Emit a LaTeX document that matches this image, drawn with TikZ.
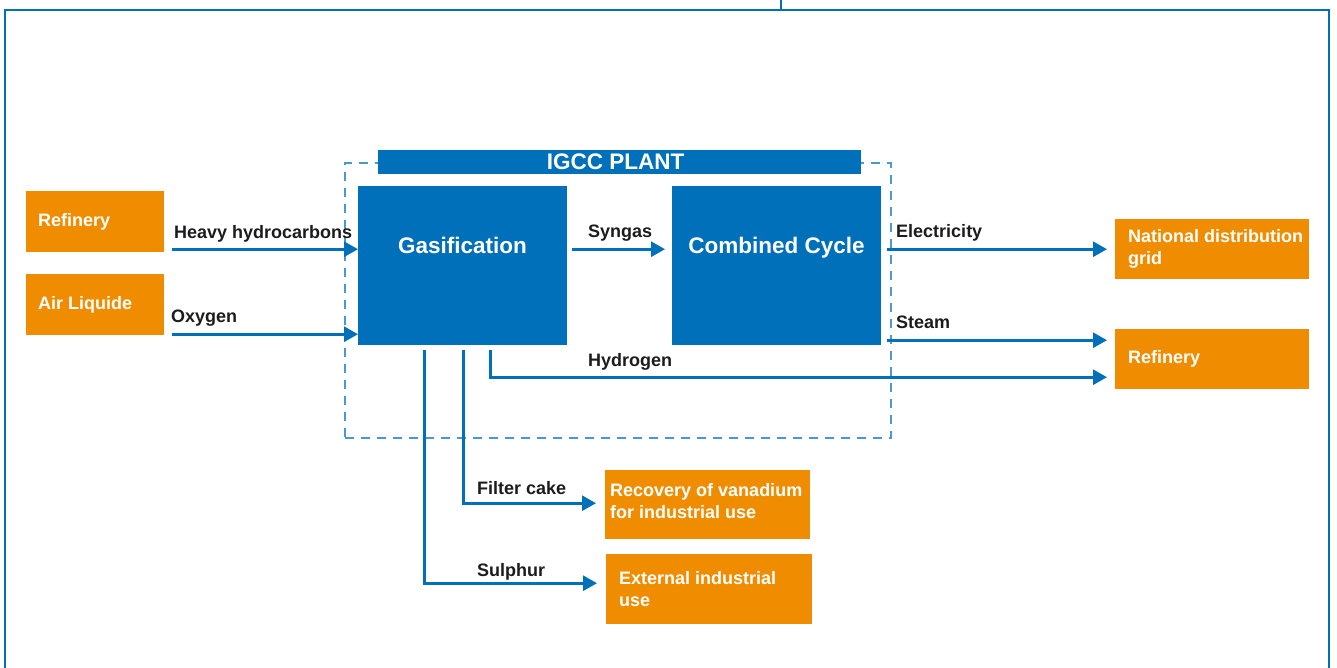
\documentclass[tikz,border=0pt]{standalone}
\usepackage{fontspec}
\setmainfont{Liberation Sans}
\usetikzlibrary{arrows.meta}

\definecolor{plantblue}{RGB}{0,112,186}
\definecolor{dashblue}{RGB}{74,152,212}
\definecolor{supplyorange}{RGB}{240,140,0}
\definecolor{labelink}{RGB}{28,28,30}

\begin{document}
\begin{tikzpicture}[x=1pt,y=-1pt,
  orangebox/.style={fill=supplyorange, anchor=north west, inner sep=0pt},
  boxtext/.style={anchor=west, inner sep=0pt, align=left, text=white,
    font=\bfseries\fontsize{18}{22}\selectfont},
  unitbox/.style={fill=plantblue, anchor=north west, inner sep=0pt},
  unittext/.style={anchor=base, inner sep=0pt, text=white,
    font=\bfseries\fontsize{22.5}{26}\selectfont},
  flowlabel/.style={anchor=base west, inner sep=0pt, text=labelink,
    font=\bfseries\fontsize{18}{21}\selectfont},
  flow/.style={draw=plantblue, line width=2.7pt,
    -{Triangle[length=14pt,width=15pt]}},
]
\useasboundingbox (0,0) rectangle (1337,668);

% outer frame
\coordinate (frameTL) at (5,10);
\coordinate (frameTR) at (1329,10);
\coordinate (tickTop) at (781,0);
\draw[plantblue, line width=2.2pt] (5,668) -- (frameTL) -- (frameTR) -- (1329,668);
\draw[plantblue, line width=2pt] (tickTop) -- (781,10);

% plant boundary
\node[draw=dashblue, line width=1.6pt, dash pattern=on 9pt off 7pt,
  anchor=north west, inner sep=0pt, minimum width=546pt, minimum height=275pt]
  (plant) at (344,162) {};
\node[unitbox, minimum width=483pt, minimum height=24pt, text=white,
  font=\bfseries\fontsize{22.5}{26}\selectfont] (plantBar) at (378,150) {IGCC PLANT\hspace*{8pt}};

% process units
\node[unitbox, minimum width=209pt, minimum height=159pt] (gas) at (358,186) {};
\node[unitbox, minimum width=209pt, minimum height=159pt] (cc) at (672,186) {};
\node[unittext] (gasText) at (462.5,253) {Gasification};
\node[unittext] (ccText) at (776.5,253) {Combined Cycle};

% suppliers and consumers
\node[orangebox, minimum width=138pt, minimum height=61pt] (refL) at (26,191) {};
\node[boxtext] (refLText) at ([xshift=12pt]refL.west) {Refinery};
\node[orangebox, minimum width=138pt, minimum height=61pt] (airL) at (26,274) {};
\node[boxtext] (airLText) at ([xshift=12pt]airL.west) {Air Liquide};

\node[orangebox, minimum width=194pt, minimum height=60pt] (grid) at (1115,219) {};
\node[boxtext] (gridText) at ([xshift=13pt]grid.west) {National distribution\\grid};
\node[orangebox, minimum width=194pt, minimum height=60pt] (refR) at (1115,329) {};
\node[boxtext] (refRText) at ([xshift=13pt]refR.west) {Refinery};

\node[orangebox, minimum width=205pt, minimum height=69pt] (vana) at (605,470) {};
\node[boxtext] (vanaText) at ([xshift=5pt,yshift=4pt]vana.west) {Recovery of vanadium\\for industrial use};
\node[orangebox, minimum width=206pt, minimum height=70pt] (ext) at (606,554) {};
\node[boxtext] (extText) at ([xshift=13pt]ext.west) {External industrial\\use};

% flows into the plant
\draw[flow] ([xshift=8pt,yshift=-27.5pt]refL.east) -- ([yshift=16.5pt]gas.west);
\draw[flow] ([xshift=8pt,yshift=-29.5pt]airL.east) -- ([yshift=-68.5pt]gas.west);
\draw[flow] ([xshift=5pt,yshift=16.5pt]gas.east) -- ([xshift=-7pt,yshift=16.5pt]cc.west);

% flows out of the plant
\draw[flow] ([xshift=6pt,yshift=16.5pt]cc.east) -- ([xshift=-8pt]grid.west);
\draw[flow] ([xshift=6pt,yshift=-74.5pt]cc.east) -- ([xshift=-8pt,yshift=19pt]refR.west);
\draw[flow] ([xshift=27.5pt,yshift=-5pt]gas.south) |- ([xshift=-8pt,yshift=-18pt]refR.west);
\draw[flow] ([xshift=0.5pt,yshift=-5pt]gas.south) |- ([xshift=-9pt,yshift=1.5pt]vana.west);
\draw[flow] ([xshift=-38.5pt,yshift=-5pt]gas.south) |- ([xshift=-9pt,yshift=6pt]ext.west);

% flow labels
\node[flowlabel] (lblHeavy) at (174,238) {Heavy hydrocarbons};
\node[flowlabel] (lblOxygen) at (171,322) {Oxygen};
\node[flowlabel] (lblSyngas) at (588,237) {Syngas};
\node[flowlabel] (lblElec) at (896,237) {Electricity};
\node[flowlabel] (lblSteam) at (896,328) {Steam};
\node[flowlabel] (lblHydrogen) at (588,366) {Hydrogen};
\node[flowlabel] (lblFilter) at (477,494) {Filter cake};
\node[flowlabel] (lblSulphur) at (477,576) {Sulphur};
\end{tikzpicture}
\end{document}
